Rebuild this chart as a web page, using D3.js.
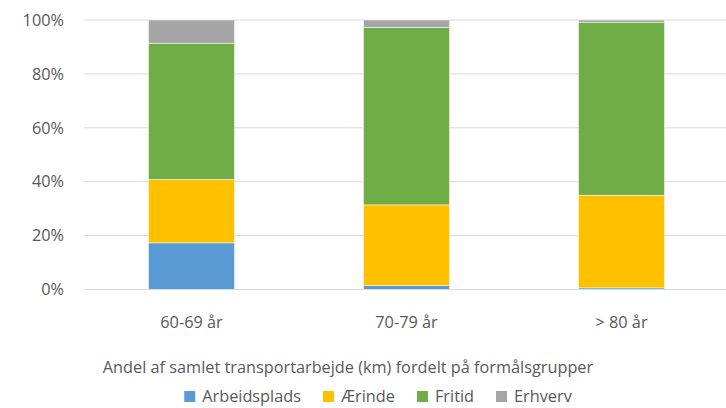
<!DOCTYPE html>
<html><head><meta charset="utf-8">
<script src="https://cdn.jsdelivr.net/npm/d3@7"></script>
<style>
html,body{margin:0;padding:0;background:#fff;}
svg{display:block;}
text{font-family:"Open Sans",sans-serif;fill:#595959;}
</style></head>
<body><svg id="c" width="726" height="408"></svg>
<script>
const categories = ["60-69 år", "70-79 år", "> 80 år"];
const seriesNames = ["Arbeidsplads", "Ærinde", "Fritid", "Erhverv"];
const arbeidsplads = [17.3, 1.4, 0.6];
const aerinde = [23.5, 30.0, 34.4];
const fritid = [50.6, 65.9, 64.2];
const erhverv = [8.6, 2.7, 0.8];
const colors = ["#5b9bd5", "#ffc000", "#70ad47", "#a5a5a5"];
const yTicks = [0, 20, 40, 60, 80, 100];
const title = "Andel af samlet transportarbejde (km) fordelt på formålsgrupper";

const svg = d3.select("#c");
const rows = categories.map((c, i) => ({cat: c, Arbeidsplads: arbeidsplads[i], "Ærinde": aerinde[i], Fritid: fritid[i], Erhverv: erhverv[i]}));
const stacked = d3.stack().keys(seriesNames)(rows);

const x = d3.scaleBand().domain(categories).range([84, 729]).paddingInner(0.6).paddingOuter(0.3);
const y = d3.scaleLinear().domain([0, 100]).range([289.5, 20]);
const fs = "16.3px";

svg.append("g").selectAll("line").data(yTicks).join("line")
  .attr("x1", 84).attr("x2", 726)
  .attr("y1", d => y(d)).attr("y2", d => y(d))
  .attr("stroke", "#d9d9d9").attr("stroke-width", 1);

svg.append("g").selectAll("text").data(yTicks).join("text")
  .attr("x", 64).attr("y", d => y(d)).attr("dy", "0.35em")
  .attr("text-anchor", "end").style("font-size", fs)
  .text(d => d + "%");

svg.append("g").selectAll("g").data(stacked).join("g")
  .attr("fill", (d, i) => colors[i])
  .selectAll("rect").data(d => d).join("rect")
  .attr("x", d => x(d.data.cat))
  .attr("width", x.bandwidth())
  .attr("y", d => y(d[1]))
  .attr("height", d => y(d[0]) - y(d[1]))
  .attr("stroke", "#ffffff").attr("stroke-width", 0.5);

svg.append("g").selectAll("text").data(categories).join("text")
  .attr("x", d => x(d) + x.bandwidth() / 2).attr("y", 322).attr("dy", "0.35em")
  .attr("text-anchor", "middle").style("font-size", fs)
  .text(d => d);

svg.append("text").attr("x", 348).attr("y", 367).attr("dy", "0.35em")
  .attr("text-anchor", "middle").style("font-size", fs).text(title);

const lg = svg.append("g");
let cx = 0;
seriesNames.forEach((n, i) => {
  const g = lg.append("g");
  g.append("rect").attr("x", 0).attr("y", -5).attr("width", 11).attr("height", 11).attr("fill", colors[i]);
  const t = g.append("text").attr("x", 18).attr("y", 0).attr("dy", "0.35em").style("font-size", fs).text(n);
  const w = 18 + t.node().getComputedTextLength();
  g.attr("transform", `translate(${cx},396)`);
  cx += w + 22;
});
const totalW = cx - 22;
lg.attr("transform", `translate(${378 - totalW / 2},0)`);
</script></body></html>
